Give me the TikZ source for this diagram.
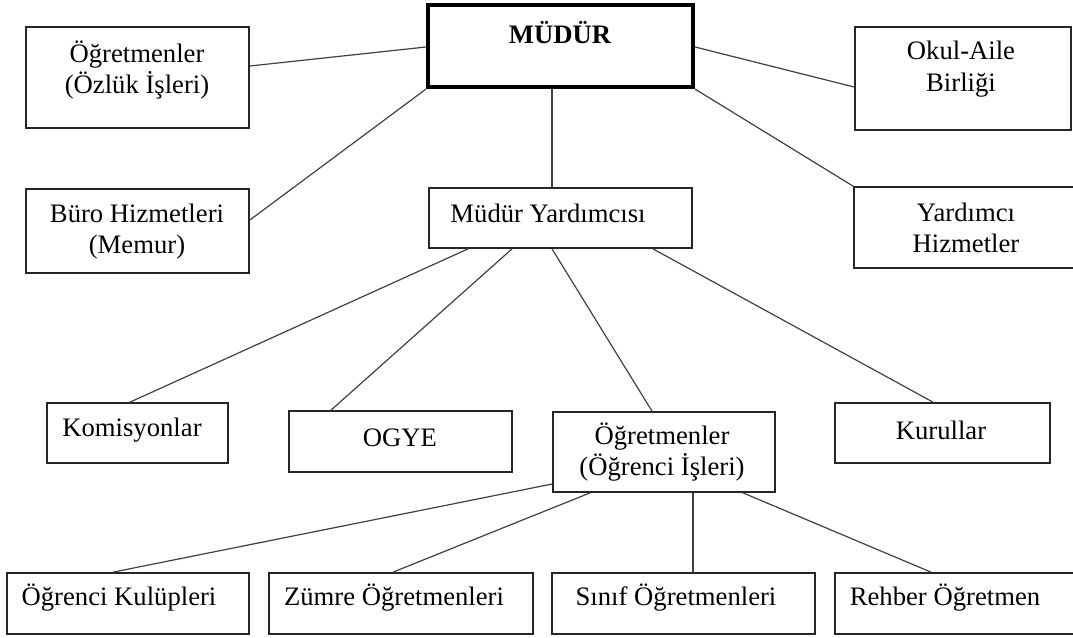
\documentclass[tikz,border=0pt]{standalone}
\usepackage{fontspec}
\setmainfont{Liberation Serif}
\usetikzlibrary{calc}
\begin{document}
\begin{tikzpicture}[x=0.75pt,y=-0.75pt,
  box/.style={draw=black!85,line width=1.3pt,inner sep=0pt,rectangle},
  bigbox/.style={draw=black,line width=3.2pt,inner sep=0pt,rectangle},
  lbl/.style={inner sep=0pt,align=center,font=\fontsize{20}{23.5}\selectfont},
  conn/.style={draw=black!75,line width=0.9pt}]
\useasboundingbox (0,0) rectangle (1073,637);
% boxes
\node[bigbox,minimum width=198.75pt,minimum height=61.5pt] (mudur) at (560.5,46) {};
\node[box,minimum width=167.25pt,minimum height=75.75pt] (ogrO) at (137.5,77.5) {};
\node[box,minimum width=167.25pt,minimum height=63pt] (buro) at (137.5,231) {};
\node[box,minimum width=162pt,minimum height=77.25pt] (okul) at (963,78.5) {};
\node[box,minimum width=166.5pt,minimum height=60.75pt] (yrdh) at (965,227.5) {};
\node[box,minimum width=197.25pt,minimum height=45pt] (myard) at (560.5,218) {};
\node[box,minimum width=135.75pt,minimum height=45pt] (komis) at (137.5,433) {};
\node[box,minimum width=167.25pt,minimum height=45.75pt] (ogye) at (400.5,441.5) {};
\node[box,minimum width=166.5pt,minimum height=60pt] (ogrI) at (664,452) {};
\node[box,minimum width=161.25pt,minimum height=45pt] (kurul) at (942.5,433) {};
\node[box,minimum width=181.5pt,minimum height=45.75pt] (kulup) at (128,603.5) {};
\node[box,minimum width=198pt,minimum height=45.75pt] (zumre) at (401,603.5) {};
\node[box,minimum width=197.25pt,minimum height=45.75pt] (sinif) at (683.5,603.5) {};
\node[box,minimum width=180.75pt,minimum height=45.75pt] (rehber) at (955.5,603.5) {};
% labels
\node[lbl,font=\fontsize{20}{23.5}\selectfont\bfseries] (tmudur) at (560,33) {MÜDÜR};
\node[lbl] (togrO) at (137,70) {Öğretmenler\\(Özlük İşleri)};
\node[lbl] (tburo) at (137,231.5) {Büro Hizmetleri\\(Memur)};
\node[lbl] (tokul) at (961,69) {Okul-Aile\\Birliği};
\node[lbl] (tyrdh) at (966,228) {Yardımcı\\Hizmetler};
\node[lbl] (tmyard) at (548,213) {Müdür Yardımcısı};
\node[lbl] (tkomis) at (132,430) {Komisyonlar};
\node[lbl] (togye) at (400,438) {OGYE};
\node[lbl] (togrI) at (662,452) {Öğretmenler\\(Öğrenci İşleri)};
\node[lbl] (tkurul) at (941,430) {Kurullar};
\node[lbl] (tkulup) at (119,598) {Öğrenci Kulüpleri};
\node[lbl] (tzumre) at (394,598) {Zümre Öğretmenleri};
\node[lbl] (tsinif) at (676,598) {Sınıf Öğretmenleri};
\node[lbl] (trehber) at (945,598) {Rehber Öğretmen};
% connectors
\draw[conn] ($(mudur.west)+(0,1)$) -- ($(ogrO.east)+(0,-11.5)$);
\draw[conn] (mudur.south west) -- ($(buro.east)+(0,-11)$);
\draw[conn] ($(mudur.east)+(0,1)$) -- ($(okul.west)+(0,8.5)$);
\draw[conn] (mudur.south east) -- (yrdh.north west);
\draw[conn] ($(mudur.south)+(-8.5,0)$) -- ($(myard.north)+(-8.5,0)$);
\draw[conn] ($(myard.south)+(-92.5,0)$) -- ($(komis.north)+(-7.5,0)$);
\draw[conn] ($(myard.south)+(-48.5,0)$) -- ($(ogye.north)+(-69.5,0)$);
\draw[conn] ($(myard.south)+(-8.5,0)$) -- ($(ogrI.north)+(-12,0)$);
\draw[conn] ($(myard.south)+(92.5,0)$) -- ($(kurul.north)+(-9.5,0)$);
\draw[conn] ($(ogrI.west)+(0,32)$) -- ($(kulup.north)+(-15,0)$);
\draw[conn] ($(ogrI.south)+(-74,0)$) -- ($(zumre.north)+(-8,0)$);
\draw[conn] ($(ogrI.south)+(29,0)$) -- ($(sinif.north)+(9.5,0)$);
\draw[conn] ($(ogrI.south)+(79,0)$) -- ($(rehber.north)+(-24.5,0)$);
\end{tikzpicture}
\end{document}
